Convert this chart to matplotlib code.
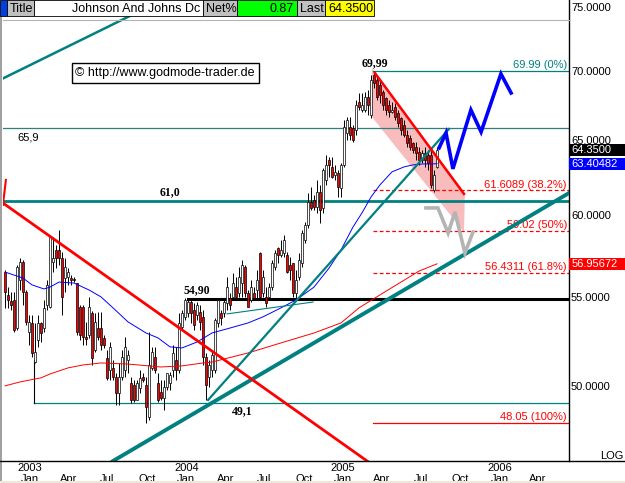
import numpy as np
import matplotlib
matplotlib.use("Agg")
import matplotlib.pyplot as plt
from matplotlib.patches import Rectangle, Polygon
from matplotlib.lines import Line2D
from matplotlib.transforms import blended_transform_factory
from matplotlib.ticker import NullLocator, NullFormatter
from datetime import date

W, H = 625, 483
plt.rcParams['font.family'] = ['Liberation Sans', 'DejaVu Sans']

# ── Weekly bars, Johnson & Johnson, first bar = week of 2002-11-04 ───────────
START = date(2002, 11, 4)

opens = [56.46, 55.10, 54.74, 54.80, 53.18, 55.98, 57.07, 55.27, 52.96, 53.47,
         51.28, 52.50, 53.47, 53.18, 54.51, 54.39, 57.07, 57.81, 57.81, 57.31,
         56.10, 56.16, 56.10, 56.04, 55.80, 54.39, 54.39, 52.68, 52.79, 54.05,
         51.95, 53.18, 53.18, 52.62, 51.50, 50.85, 50.96, 50.47, 49.61, 50.47,
         50.85, 51.39, 50.15, 50.04, 49.24, 49.88, 50.47, 50.04, 48.35, 50.96,
         51.56, 50.15, 49.66, 49.34, 49.93, 50.15, 50.85, 51.39, 50.85, 53.24,
         53.82, 54.05, 54.68, 54.22, 53.93, 54.10, 53.82, 51.56, 50.47, 50.85,
         50.85, 53.47, 54.05, 54.05, 54.63, 54.92, 54.98, 55.56, 55.21, 55.80,
         56.76, 55.21, 54.80, 55.21, 55.39, 57.62, 55.21, 54.98, 54.98, 55.56,
         56.76, 57.93, 57.50, 57.62, 57.50, 56.89, 57.01, 55.21, 56.16, 57.01,
         58.43, 59.38, 60.85, 60.98, 60.53, 61.51, 60.47, 62.31, 63.65, 63.18,
         62.65, 62.78, 61.78, 63.32, 65.52, 65.94, 65.87, 65.73, 67.73, 67.15,
         67.15, 68.09, 66.80, 69.71, 69.34, 68.97, 68.45, 68.02, 67.51, 67.01,
         67.37, 66.94, 66.58, 66.09, 65.38, 65.17, 64.82, 64.55, 64.20, 63.65,
         64.13, 64.00, 64.00, 61.64, 63.18]
highs = [56.58, 55.56, 55.27, 55.27, 56.89, 57.31, 57.19, 55.39, 53.93, 53.93,
         53.47, 53.93, 53.53, 54.80, 55.98, 58.62, 58.62, 58.12, 59.06, 57.69,
         57.31, 56.70, 56.28, 56.16, 55.80, 54.51, 54.51, 53.53, 54.98, 54.16,
         54.05, 54.10, 54.10, 52.79, 51.95, 52.39, 51.39, 50.69, 51.23, 51.95,
         52.68, 51.95, 50.47, 50.31, 50.31, 50.85, 50.69, 50.47, 52.96, 52.12,
         52.12, 50.69, 50.31, 50.31, 50.69, 50.74, 52.23, 52.12, 54.05, 54.22,
         54.92, 54.80, 54.80, 54.63, 54.68, 54.51, 54.22, 51.78, 51.39, 51.95,
         53.76, 54.80, 54.22, 54.80, 56.16, 55.21, 56.40, 56.16, 56.76, 57.19,
         56.89, 55.39, 55.98, 55.56, 56.58, 57.69, 56.58, 55.56, 55.80, 57.19,
         57.81, 58.00, 58.43, 58.75, 57.69, 57.38, 57.01, 56.58, 57.62, 59.06,
         59.56, 61.44, 61.84, 61.31, 62.31, 61.98, 63.11, 64.00, 63.85, 63.85,
         63.32, 62.98, 63.45, 66.44, 66.65, 66.65, 66.09, 67.87, 68.38, 68.38,
         68.45, 68.60, 69.71, 69.99, 69.71, 69.34, 68.60, 68.09, 67.87, 67.73,
         67.65, 67.15, 66.65, 66.44, 65.73, 65.38, 64.89, 64.89, 64.55, 64.34,
         64.55, 64.34, 64.34, 62.98, 64.55]
lows = [54.34, 54.34, 54.22, 52.96, 53.07, 55.39, 54.51, 53.36, 52.23, 51.56,
        51.23, 52.12, 52.39, 52.96, 54.22, 54.34, 56.46, 56.70, 56.89, 53.93,
        55.27, 55.69, 55.69, 55.86, 52.79, 52.50, 52.23, 52.23, 52.62, 51.12,
        51.84, 52.50, 51.95, 52.06, 50.31, 50.31, 50.31, 48.98, 48.98, 50.31,
        50.47, 50.69, 49.08, 49.13, 49.24, 49.61, 50.20, 48.05, 48.20, 50.85,
        50.69, 49.13, 49.24, 48.71, 49.77, 49.77, 50.47, 50.31, 50.69, 53.07,
        53.64, 53.82, 53.47, 53.07, 53.64, 53.07, 51.12, 49.24, 49.93, 50.47,
        50.69, 53.24, 53.36, 53.82, 54.22, 54.22, 54.80, 54.80, 54.98, 54.98,
        54.98, 54.39, 54.68, 54.80, 54.80, 54.80, 54.98, 54.39, 54.80, 55.39,
        56.58, 57.01, 57.38, 57.38, 56.40, 55.98, 54.98, 54.92, 55.98, 56.76,
        58.24, 59.19, 60.34, 60.34, 60.15, 59.50, 60.15, 61.98, 62.51, 62.45,
        62.31, 61.18, 61.18, 63.18, 65.03, 65.03, 64.89, 65.38, 67.15, 67.01,
        67.01, 66.80, 66.58, 68.75, 67.87, 67.65, 67.15, 66.80, 66.65, 66.94,
        66.44, 65.94, 65.38, 65.24, 64.55, 64.34, 64.13, 63.65, 63.32, 63.45,
        63.18, 62.98, 61.78, 61.51, 63.11]
closes = [55.27, 54.80, 54.51, 53.07, 56.76, 57.07, 55.27, 53.53, 53.53, 51.78,
          51.84, 53.47, 52.90, 54.34, 55.69, 58.62, 57.31, 57.31, 57.31, 54.98,
          56.76, 56.46, 55.98, 55.98, 52.96, 52.79, 52.68, 52.56, 54.39, 51.50,
          53.53, 52.68, 52.23, 52.23, 50.42, 52.12, 50.47, 49.61, 50.47, 51.56,
          52.12, 51.67, 49.24, 49.24, 50.15, 50.42, 50.31, 48.87, 51.12, 51.84,
          50.85, 49.24, 49.34, 49.93, 50.69, 50.58, 51.78, 50.85, 53.47, 54.05,
          54.80, 54.68, 54.05, 53.36, 54.51, 53.53, 51.56, 50.04, 51.12, 51.67,
          53.64, 54.80, 53.76, 54.68, 55.56, 54.51, 55.80, 54.98, 56.16, 56.89,
          55.21, 54.39, 55.56, 54.92, 55.98, 54.98, 56.16, 54.63, 55.56, 57.01,
          57.62, 57.50, 57.81, 58.43, 56.46, 56.58, 55.21, 55.98, 57.19, 58.87,
          59.38, 60.85, 60.47, 60.53, 61.51, 60.34, 62.98, 63.32, 63.32, 62.51,
          62.85, 61.84, 63.32, 65.94, 66.44, 65.38, 65.03, 67.51, 67.37, 67.51,
          68.09, 67.51, 69.34, 69.12, 68.09, 68.24, 67.51, 67.15, 67.01, 67.15,
          66.65, 66.23, 65.73, 65.38, 64.82, 64.55, 64.34, 64.13, 63.65, 64.13,
          63.65, 63.45, 61.98, 62.65, 64.35]

# moving averages (read at sampled weeks)
blue_ma_week = [0, 3, 6, 9, 13, 15, 18, 23, 28, 32, 36, 41, 47, 51, 55, 59, 64, 69,
                75, 81, 86, 92, 97, 103, 108, 112, 116, 119, 122, 125, 129, 133,
                136, 139, 142, 144]
blue_ma = [56.46, 56.28, 56.10, 55.69, 55.45, 55.56, 55.86, 55.80, 55.39, 54.98,
           54.34, 53.53, 52.90, 52.62, 52.12, 52.06, 52.39, 52.90, 53.18, 53.47,
           53.82, 54.34, 54.80, 55.56, 56.70, 57.81, 59.25, 60.15, 61.18, 61.98,
           62.85, 63.18, 63.32, 63.38, 63.38, 63.40]
red_ma_week = [0, 5, 12, 15, 21, 26, 32, 41, 52, 59, 66, 69, 81, 92, 103, 112,
               118, 125, 132, 138, 144]
red_ma = [49.99, 50.20, 50.42, 50.63, 50.96, 51.12, 51.23, 51.17, 51.01, 51.07,
          51.23, 51.28, 51.78, 52.34, 52.90, 53.47, 54.34, 55.10, 55.86, 56.52, 56.96]

# trendlines (week, price)
teal_top_w, teal_top_p = [-1.7, 42.3], [69.34, 74.33]
teal_long_w, teal_long_p = [36.0, 188.0], [46.13, 61.44]
teal_steep_w, teal_steep_p = [67.7, 148.0], [49.24, 65.80]
teal_thin_w, teal_thin_p = [74.0, 102.7], [53.99, 54.68]
red_down_w, red_down_p = [-0.7, 120.7], [60.79, 46.13]
red_hook_w, red_hook_p = [-0.7, 0.3], [60.66, 62.31]
red_chan_w, red_chan_p = [123.3, 153.0], [69.86, 61.38]
pink_w, pink_p = [122.3, 153.3, 153.0, 122.3], [70.23, 61.44, 58.93, 66.65]

# scenario paths
blue_path_w = [144.7, 147.0, 149.3, 155.3, 158.7, 165.3, 168.7]
blue_path_p = [64.48, 65.52, 63.05, 67.15, 65.59, 69.79, 68.38]
gray_path_w = [140.3, 144.3, 147.7, 150.0, 153.3, 156.0]
gray_path_p = [60.47, 60.47, 58.87, 60.21, 57.62, 58.93]

# horizontal marks: value, start week, label
level_vals = [65.85, 60.9, 54.85, 49.1]
level_start = [-0.7, -0.7, 61.0, 9.7]
level_names = ['65,9', '61,0', '54,90', '49,1']

fib_vals = [69.99, 61.6089, 59.02, 56.4311, 48.05]
fib_names = ['69.99 (0%)', '61.6089 (38.2%)', '59.02 (50%)', '56.4311 (61.8%)', '48.05 (100%)']
fib_start = 122.7

last_price, blue_last, red_last = 64.35, 63.40482, 56.95672
y_ticks = [50, 55, 60, 65, 70, 75]
month_ticks = ['2003-01', '2003-04', '2003-07', '2003-10', '2004-01', '2004-04',
               '2004-07', '2004-10', '2005-01', '2005-04', '2005-07', '2005-10',
               '2006-01', '2006-04']
month_names = {1: 'Jan', 4: 'Apr', 7: 'Jul', 10: 'Oct'}

TEAL = '#008080'

def week_of(s):
    y, m = map(int, s.split('-'))
    return (date(y, m, 1) - START).days / 7.0

def fx(px): return px / W
def fy(py): return 1 - py / H

# ── Figure ───────────────────────────────────────────────────────────────────
fig = plt.figure(figsize=(W / 100, H / 100), dpi=100)
ax = fig.add_axes([fx(3), fy(461), fx(566), 461 / H])
ax.set_yscale('log')
ax.set_xlim(-0.67, 188.0)
ax.set_ylim(46.13, 75.53)
for s in ('top', 'left', 'bottom'):
    ax.spines[s].set_visible(False)
ax.spines['right'].set_linewidth(1.0)

ax.yaxis.tick_right()
ax.set_yticks(y_ticks)
ax.set_yticklabels([f'{v:.4f}' for v in y_ticks], fontsize=8)
ax.yaxis.set_minor_locator(NullLocator())
ax.yaxis.set_minor_formatter(NullFormatter())
ax.tick_params(axis='y', length=0, pad=1.5)
ax.set_xticks([])

# pink channel
ax.add_patch(Polygon(list(zip(pink_w, pink_p)), closed=True, fc='#f9bcbc', ec='none', zorder=1))

# horizontal levels
ax.plot([level_start[0], 188], [level_vals[0]] * 2, color='#2f7f7f', lw=0.9, zorder=2)
ax.plot([level_start[1], 188], [level_vals[1]] * 2, color=TEAL, lw=2.0, zorder=2)
ax.plot([level_start[2], 188], [level_vals[2]] * 2, color='black', lw=2.2, zorder=2)
ax.plot([level_start[3], 188], [level_vals[3]] * 2, color=TEAL, lw=0.9, zorder=2)
ax.plot([9.7, 9.7], [49.1, 51.39], color='black', lw=0.8, zorder=2)
ax.plot([61.0, 61.0], [54.85, 54.3], color='black', lw=0.8, zorder=2)

for v, name in zip(fib_vals, fib_names):
    col = TEAL if v == 69.99 else 'red'
    ls = '-' if v in (69.99, 48.05) else (0, (3, 2))
    ax.plot([fib_start, 188], [v, v], color=col, lw=0.9, ls=ls, zorder=2)
    ax.text(187.3, v * 1.001, name, color=col, fontsize=8, ha='right', va='bottom', zorder=2)

# candles
wk = np.arange(len(closes))
o, h, l, c = map(np.array, (opens, highs, lows, closes))
up = c >= o
ax.vlines(wk, l, h, color='black', lw=0.7, zorder=3)
body = np.maximum(np.abs(c - o), 0.06)
ax.bar(wk, body, bottom=np.minimum(o, c), width=0.8,
       color=np.where(up, 'white', 'red'), edgecolor='black', linewidth=0.5, zorder=4)

# moving averages
ax.plot(blue_ma_week, blue_ma, color='#0000ff', lw=0.7, zorder=5)
ax.plot(red_ma_week, red_ma, color='#ff0000', lw=0.7, zorder=5)

# trendlines
ax.plot(teal_top_w, teal_top_p, color=TEAL, lw=1.8, zorder=6)
ax.plot(teal_long_w, teal_long_p, color=TEAL, lw=2.8, zorder=6)
ax.plot(teal_steep_w, teal_steep_p, color=TEAL, lw=1.6, zorder=6)
ax.plot(teal_thin_w, teal_thin_p, color=TEAL, lw=0.8, zorder=6)
ax.plot(red_down_w, red_down_p, color='red', lw=2.0, zorder=6)
ax.plot(red_hook_w, red_hook_p, color='red', lw=1.5, zorder=6)
ax.plot(red_chan_w, red_chan_p, color='red', lw=1.8, zorder=6)

ax.plot(gray_path_w, gray_path_p, color='#b4b4b4', lw=2.6, zorder=7, solid_joinstyle='miter')
ax.plot(blue_path_w, blue_path_p, color='#0000ff', lw=2.6, zorder=7, solid_joinstyle='miter')

# right-hand value boxes
bt = blended_transform_factory(ax.transAxes, ax.transData)
for val, fc, txt in [(last_price, 'black', '64.3500'), (blue_last, '#0000ff', '63.40482'),
                     (red_last, '#ff0000', '56.95672')]:
    ax.add_patch(Rectangle((1.0, val * np.exp(-0.0064)), 0.1, val * (np.exp(0.0064) - np.exp(-0.0064)),
                           transform=bt, fc=fc, ec='none', clip_on=False, zorder=10))
    ax.text(1.004, val, txt, transform=bt, color='white', fontsize=8, va='center', ha='left',
            clip_on=False, zorder=11)

# x axis labels
xt = blended_transform_factory(ax.transData, ax.transAxes)
for s in month_ticks:
    w = week_of(s)
    m = int(s.split('-')[1])
    ax.text(w, -0.038, month_names[m], transform=xt, fontsize=8, ha='center', va='center', clip_on=False)
    if m == 1:
        ax.text(w, -0.016, s[:4], transform=xt, fontsize=8, ha='center', va='center', clip_on=False)

# annotation labels
serif = dict(family=['Liberation Serif', 'DejaVu Serif'], fontweight='bold', fontsize=8.5)
fig.text(fx(170), fy(192), level_names[1], ha='center', va='center', **serif)
fig.text(fx(197), fy(290), level_names[2], ha='center', va='center', **serif)
fig.text(fx(242), fy(411), level_names[3], ha='center', va='center', **serif)
fig.text(fx(375), fy(63), '69,99', ha='center', va='center', **serif)
fig.text(fx(28), fy(137), level_names[0], ha='center', va='center', fontsize=8)
fig.text(fx(612), fy(456), 'LOG', ha='center', va='center', fontsize=8)
fig.text(fx(165), fy(73), '\u00a9 http://www.godmode-trader.de', ha='center', va='center', fontsize=9,
         bbox=dict(boxstyle='square,pad=0.3', fc='white', ec='black', lw=1.0))

# frame pieces
fig.add_artist(Line2D([0, 1], [fy(461), fy(461)], color='black', lw=1.0))
fig.add_artist(Line2D([fx(3), fx(569)], [fy(20), fy(20)], color='#b4b4b4', lw=0.8))
fig.add_artist(Rectangle((0, 0), fx(2), fy(16), fc='#a0a0a0', ec='none'))
fig.add_artist(Rectangle((0, 0), 1, 2 / H, fc='#ece9d8', ec='none'))

# header strip
header = [(0, 7, '#0040e0', '', 'l'), (7, 34, '#c0c0c0', 'Title', 'l'),
          (34, 203, 'white', 'Johnson And Johns Dc', 'r'), (203, 237, '#c0c0c0', 'Net%', 'l'),
          (237, 297, '#00ff00', '0.87', 'r'), (297, 325, '#c0c0c0', 'Last', 'l'),
          (325, 374, '#ffff00', '64.3500', 'l')]
for x0, x1, col, txt, al in header:
    fig.add_artist(Rectangle((fx(x0), fy(16)), fx(x1 - x0), 16 / H, fc=col, ec='black', lw=0.6, zorder=20))
    if txt:
        tx = fx(x0 + 3) if al == 'l' else fx(x1 - 3)
        fig.text(tx, fy(8.5), txt, ha='left' if al == 'l' else 'right', va='center', fontsize=9, zorder=21)

fig.savefig('out.png', dpi=100)
